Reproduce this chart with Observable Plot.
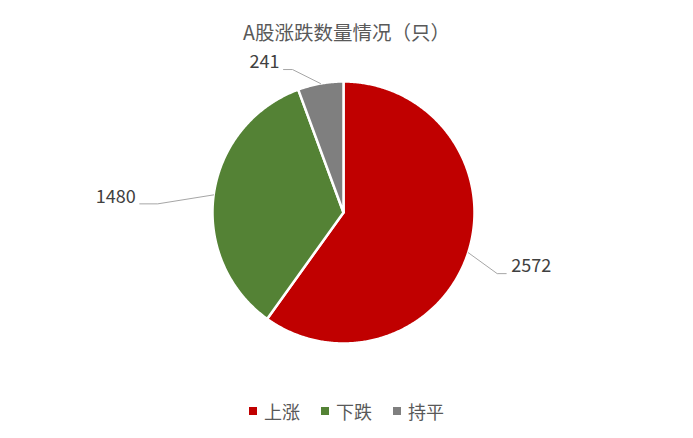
<!DOCTYPE html>
<html><head><meta charset="utf-8">
<script src="https://cdn.jsdelivr.net/npm/d3@7"></script>
<script src="https://cdn.jsdelivr.net/npm/@observablehq/plot@0.6"></script>
<style>
body{margin:0;background:#fff;font-family:"Noto Sans CJK SC","Noto Sans",sans-serif;}
#wrap{width:693px;height:438px;overflow:hidden;position:relative;}
#title{height:40px;box-sizing:border-box;padding-top:20px;line-height:24px;text-align:center;font-size:19.5px;color:#595959;white-space:nowrap;}
#chart{height:350px;}
#chart svg{display:block;}
#legend{position:absolute;left:0;top:399px;width:693px;height:24px;line-height:24px;display:flex;justify-content:center;font-size:18px;color:#595959;}
.item{display:flex;align-items:center;margin:0 10.5px;}
.sw{width:8px;height:8px;margin-right:7px;}
</style></head><body>
<div id="wrap"><div id="title"></div><div id="chart"></div><div id="legend"></div></div>
<script>
const titleText = "A股涨跌数量情况（只）";
const categories = ["上涨", "下跌", "持平"];
const counts = [2572, 1480, 241];
const colors = ["#C00000", "#548235", "#7F7F7F"];

const rows = categories.map((c, i) => ({cat: c, count: counts[i]}));

// layout constants (pixels)
const W = 693, H = 350, CX = 343, CY = 172, R = 131;
// leader-line elbow offsets from slice edge midpoint (page px, y down) and tail length
const leaderLayout = {
  "上涨": {dx: 29, dy: 21, tail: 9},
  "下跌": {dx: -56, dy: 9, tail: -18},
  "持平": {dx: -28, dy: -14, tail: -9}
};

const arcs = d3.pie().sort(null).value(d => d.count)(rows);

const slicePts = arcs.flatMap(a => {
  const cat = a.data.cat;
  const n = Math.max(2, Math.ceil((a.endAngle - a.startAngle) / (Math.PI / 360)));
  const pts = [{cat, x: 0, y: 0}];
  for (let i = 0; i <= n; i++) {
    const t = a.startAngle + (a.endAngle - a.startAngle) * i / n;
    pts.push({cat, x: R * Math.sin(t), y: R * Math.cos(t)});
  }
  pts.push({cat, x: 0, y: 0});
  return pts;
});

const leaderPts = [];
const labels = [];
arcs.forEach(a => {
  const cat = a.data.cat;
  const m = (a.startAngle + a.endAngle) / 2;
  const ex = R * Math.sin(m), ey = R * Math.cos(m);
  const L = leaderLayout[cat];
  const bx = ex + L.dx, by = ey - L.dy;
  const tx = bx + L.tail;
  leaderPts.push({cat, x: ex, y: ey}, {cat, x: bx, y: by}, {cat, x: tx, y: by});
  labels.push({cat, x: tx, y: by, text: String(a.data.count), side: L.tail > 0 ? "right" : "left"});
});

const plot = Plot.plot({
  width: W, height: H,
  margin: 0,
  x: {domain: [-CX, W - CX], axis: null},
  y: {domain: [-(H - CY), CY], axis: null},
  color: {domain: categories, range: colors},
  style: {fontFamily: '"Noto Sans CJK SC","Noto Sans",sans-serif', background: "white"},
  marks: [
    Plot.line(slicePts, {x: "x", y: "y", z: "cat", fill: "cat", stroke: "white", strokeWidth: 2.5, strokeLinejoin: "round"}),
    Plot.line(leaderPts, {x: "x", y: "y", z: "cat", stroke: "#A6A6A6", strokeWidth: 1}),
    Plot.text(labels.filter(d => d.side === "right"), {x: "x", y: "y", text: "text", textAnchor: "start", dx: 5, dy: -7, fontSize: 18, fill: "#404040"}),
    Plot.text(labels.filter(d => d.side === "left"), {x: "x", y: "y", text: "text", textAnchor: "end", dx: -4, dy: -7, fontSize: 18, fill: "#404040"})
  ]
});

document.getElementById("title").textContent = titleText;
document.getElementById("chart").appendChild(plot);
const legend = document.getElementById("legend");
categories.forEach((c, i) => {
  const it = document.createElement("div");
  it.className = "item";
  const sw = document.createElement("span");
  sw.className = "sw";
  sw.style.background = colors[i];
  const tx = document.createElement("span");
  tx.textContent = c;
  it.appendChild(sw); it.appendChild(tx);
  legend.appendChild(it);
});
</script>
</body></html>
